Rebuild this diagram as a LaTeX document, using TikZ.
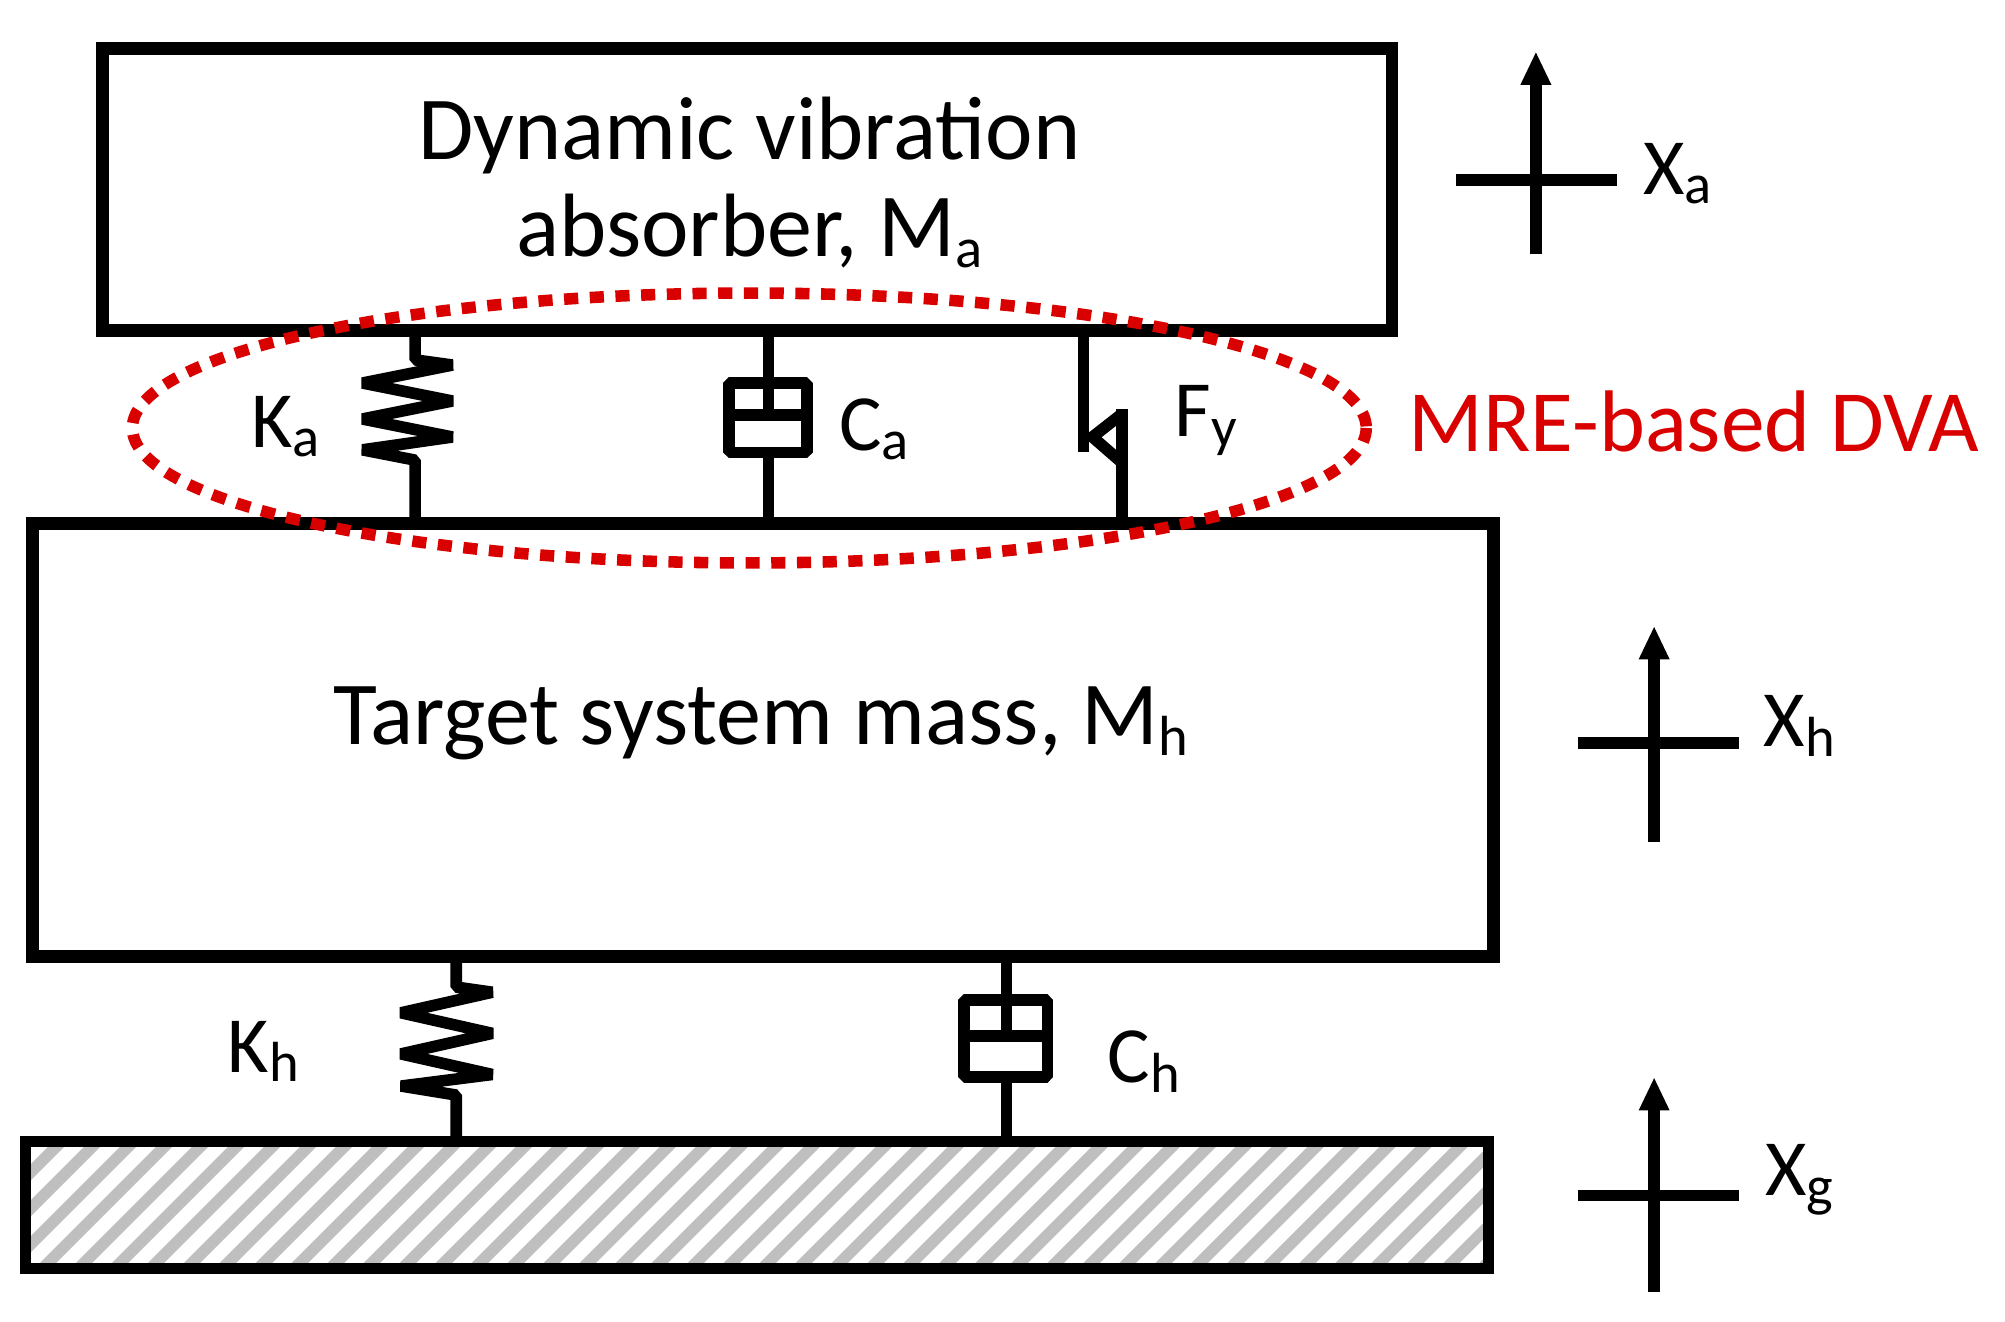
\documentclass[tikz,border=0pt]{standalone}
\usepackage{fontspec}
\setmainfont{Carlito}
\usetikzlibrary{arrows.meta}
\newcommand{\subs}[1]{\raisebox{-0.12em}{\fontsize{44}{44}\selectfont #1}}
\begin{document}
\begin{tikzpicture}[x=1pt,y=-1pt,
  box/.style={line width=10pt,draw=black},
  comp/.style={line width=9pt,draw=black,line join=bevel},
  lab/.style={font=\fontsize{62}{62}\selectfont},
  big/.style={font=\fontsize{70}{76}\selectfont,align=center},
  ax/.style={line width=9pt,draw=black}]
\useasboundingbox (0,0) rectangle (1560,1028);
% boxes
\draw[box] (80,38) rectangle (1083,257);
\node[big] (ta) at (583,142) {Dynamic vibration\\absorber, M\subs{a}};
\draw[box] (25,407) rectangle (1162,744);
\node[big] (th) at (592,563) {Target system mass, M\subs{h}};
% ground
\begin{scope}
\clip (20,888) rectangle (1158,987);
\foreach \i in {-120,-92,...,1200}
  \draw[gray!50,line width=9pt] (\i,1000) -- (\i+120,880);
\end{scope}
\draw[line width=9pt] (20,888) rectangle (1158,987);
% Ka spring
\draw[comp] (323,257) -- (323,280) -- (352,284) -- (282,298) -- (352,312) -- (282,326) -- (352,340) -- (282,350) -- (323,358) -- (323,407);
\node[lab] (ka) at (222,332) {K\subs{a}};
% Ca damper
\draw[comp] (598,257) -- (598,298); \draw[comp] (598,352) -- (598,407);
\draw[comp] (567,298) rectangle (628,352);
\draw[comp] (567,323) -- (628,323); \draw[comp] (598,298) -- (598,323);
\node[lab] (ca) at (680,334) {C\subs{a}};
% Fy friction
\draw[comp] (843,257) -- (843,352);
\draw[comp] (873,318) -- (873,407);
\draw[comp] (873,322) -- (850,340) -- (873,360);
\node[lab] (fy) at (938,327) {F\subs{y}};
% ellipse
\draw[red!85!black,line width=9pt,dash pattern=on 11pt off 9pt] (583,333) ellipse [x radius=480,y radius=105];
\node[lab,text=red!85!black,font=\fontsize{68}{68}\selectfont] (mre) at (1318,328) {MRE-based DVA};
% Kh spring
\draw[comp] (355,744) -- (355,768) -- (383,772) -- (312,788) -- (383,804) -- (312,820) -- (383,836) -- (312,845) -- (355,852) -- (355,888);
\node[lab] (kh) at (205,818) {K\subs{h}};
% Ch damper
\draw[comp] (783,744) -- (783,778); \draw[comp] (783,838) -- (783,888);
\draw[comp] (750,778) rectangle (815,838);
\draw[comp] (750,806) -- (815,806); \draw[comp] (783,778) -- (783,806);
\node[lab] (ch) at (890,826) {C\subs{h}};
% axes
\draw[ax,-{Triangle[length=26pt,width=22pt]}] (1195,198) -- (1195,40);
\draw[ax] (1133,140) -- (1258,140);
\node[lab] (xa) at (1305,135) {X\subs{a}};
\draw[ax,-{Triangle[length=26pt,width=22pt]}] (1287,655) -- (1287,487);
\draw[ax] (1228,578) -- (1353,578);
\node[lab] (xh) at (1400,565) {X\subs{h}};
\draw[ax,-{Triangle[length=26pt,width=22pt]}] (1287,1005) -- (1287,838);
\draw[ax] (1228,930) -- (1353,930);
\node[lab] (xg) at (1400,918) {X\subs{g}};
\end{tikzpicture}
\end{document}
